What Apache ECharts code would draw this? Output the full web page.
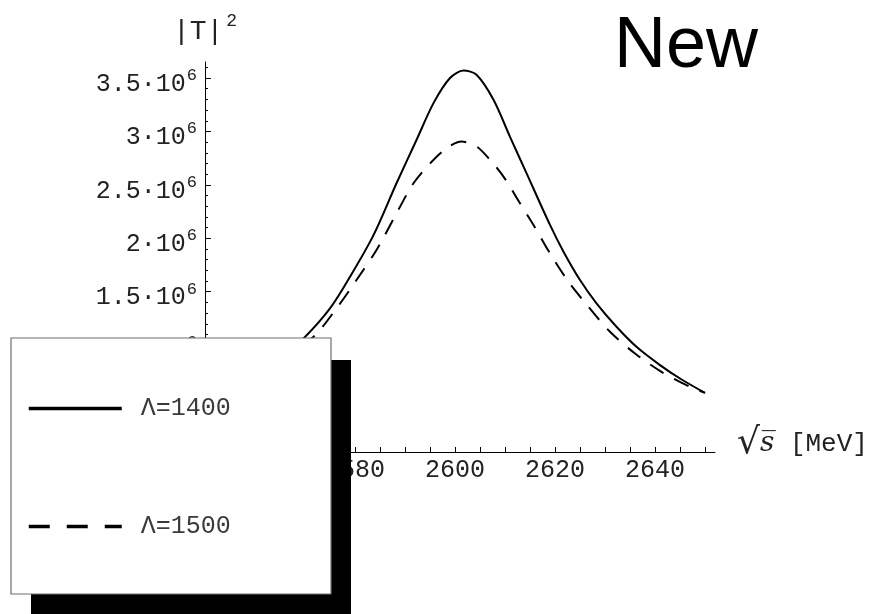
<!DOCTYPE html>
<html><head><meta charset="utf-8">
<script src="https://cdn.jsdelivr.net/npm/echarts@6/dist/echarts.min.js"></script>
<style>html,body{margin:0;padding:0;background:#fff}#c{width:879px;height:614px}</style>
</head><body><div id="c"></div>
<script>
// sqrt(s) [MeV] and |T|^2 values
const solidName = 'Λ=1400';
const solidX = [2550, 2555, 2560, 2565, 2569.7, 2575, 2579, 2583.7, 2588.3, 2592.3, 2595.7, 2599, 2601.7, 2604.3, 2607.7, 2611, 2614.3, 2619, 2621.7, 2625, 2628.3, 2632.3, 2636.3, 2641, 2645, 2650];
const solidY = [0.50e6, 0.60e6, 0.72e6, 0.88e6, 1.063e6, 1.344e6, 1.64e6, 2.03e6, 2.515e6, 2.92e6, 3.265e6, 3.50e6, 3.57e6, 3.53e6, 3.296e6, 2.95e6, 2.61e6, 2.125e6, 1.874e6, 1.609e6, 1.391e6, 1.172e6, 0.984e6, 0.813e6, 0.688e6, 0.553e6];

const dashedName = 'Λ=1500';
const dashedX = [2550, 2555, 2560, 2565, 2571.7, 2576.3, 2580.3, 2584.3, 2588.3, 2591.7, 2595, 2598.3, 2601.3, 2604.3, 2607, 2609.7, 2613, 2615.7, 2619, 2622.7, 2626.7, 2631, 2636, 2641.3, 2647, 2650];
const dashedY = [0.48e6, 0.58e6, 0.70e6, 0.85e6, 1.078e6, 1.344e6, 1.61e6, 1.89e6, 2.234e6, 2.515e6, 2.70e6, 2.843e6, 2.905e6, 2.86e6, 2.734e6, 2.577e6, 2.328e6, 2.125e6, 1.859e6, 1.593e6, 1.359e6, 1.125e6, 0.922e6, 0.75e6, 0.609e6, 0.553e6];

const xTickValues = [2550, 2555, 2560, 2565, 2570, 2575, 2580, 2585, 2590, 2595, 2600, 2605, 2610, 2615, 2620, 2625, 2630, 2635, 2640, 2645, 2650];
const xLabelValues = [2560, 2580, 2600, 2620, 2640];
const yTickValues = [0, 0.5e6, 1e6, 1.5e6, 2e6, 2.5e6, 3e6, 3.5e6];
const yLabelValues = [1e6, 1.5e6, 2e6, 2.5e6, 3e6, 3.5e6];

const zip = (xs, ys) => xs.map((x, i) => [x, ys[i]]);
const mono = 'Liberation Mono';
const txt = '#222';
const hidden = {color: 'rgba(0,0,0,0)', borderWidth: 0, opacity: 0};

const chart = echarts.init(document.getElementById('c'), null, {renderer: 'canvas'});
chart.setOption({
  backgroundColor: '#fff',
  animation: false,
  title: {
    text: 'New', left: 614, top: 11, padding: 0,
    textStyle: {fontFamily: 'Liberation Sans', fontSize: 72, fontWeight: 'normal', color: '#000'}
  },
  grid: {left: 205, top: 62, width: 510, height: 390},
  graphic: {
    z: 10,
    elements: [
      {type: 'rect', z: 10, zlevel: 0, shape: {x: 31, y: 360, width: 320, height: 270}, style: {fill: '#000'}, silent: true},
      {type: 'rect', z: 10, zlevel: 0, shape: {x: 11, y: 338, width: 320, height: 256}, style: {fill: '#fff', stroke: '#6e6e6e', lineWidth: 1.2}, silent: true}
    ]
  },
  xAxis: {
    type: 'value', min: 2550, max: 2652,
    name: '{r|√}{s|s\u0305}{u| [MeV]}', nameLocation: 'end', nameGap: 22,
    nameTextStyle: {
      padding: [0, 0, 16, 0],
      rich: {
        r: {fontFamily: 'DejaVu Sans', fontSize: 36, color: txt},
        s: {fontFamily: 'DejaVu Serif', fontStyle: 'italic', fontSize: 28, color: txt},
        u: {fontFamily: mono, fontSize: 26, color: txt}
      }
    },
    axisLine: {show: true, lineStyle: {color: '#000', width: 1}},
    axisTick: {show: true, inside: true, length: 5, customValues: xTickValues, lineStyle: {color: '#000'}},
    axisLabel: {customValues: xLabelValues, formatter: v => String(v), fontFamily: mono, fontSize: 25, color: txt, margin: 6},
    splitLine: {show: false}
  },
  yAxis: {
    type: 'value', min: 0, max: 3.65e6, interval: 0.5e6,
    name: '{a||T|}{s|2}', nameLocation: 'end', nameGap: 18,
    nameTextStyle: {
      rich: {
        a: {fontFamily: mono, fontSize: 28, color: txt, lineHeight: 32, padding: [8, 0, 0, 0]},
        s: {fontFamily: mono, fontSize: 18, color: txt, verticalAlign: 'top', lineHeight: 18, padding: [0, 0, 0, 3]}
      }
    },
    axisLine: {show: true, lineStyle: {color: '#000', width: 1}},
    axisTick: {show: true, inside: true, length: 6, customValues: yTickValues, lineStyle: {color: '#000'}},
    minorTick: {show: true, splitNumber: 5, length: 3, lineStyle: {color: '#000'}},
    axisLabel: {
      customValues: yLabelValues, margin: 8,
      formatter: v => '{a|' + (+(v / 1e6).toFixed(1)) + '·10}{s|6}',
      rich: {
        a: {fontFamily: mono, fontSize: 25, color: txt, lineHeight: 26, padding: [12, 0, 0, 0]},
        s: {fontFamily: mono, fontSize: 17, color: txt, verticalAlign: 'top', lineHeight: 18, padding: [2, 0, 0, 1]}
      }
    },
    splitLine: {show: false}
  },
  legend: {
    z: 20,
    orient: 'vertical', left: 11, top: 340,
    padding: [56, 100, 54, 16],
    itemWidth: 93, itemHeight: 28, itemGap: 93,
    backgroundColor: 'transparent', borderWidth: 0,
    selectedMode: false,
    textStyle: {fontFamily: mono, fontSize: 25, color: '#3a3a3a', padding: [0, 0, 0, 14]},
    itemStyle: hidden,
    data: [
      {name: solidName, itemStyle: hidden, lineStyle: {width: 3.5, type: 'solid', color: '#000'}},
      {name: dashedName, itemStyle: hidden, lineStyle: {width: 3.5, type: [21, 17], color: '#000'}}
    ]
  },
  series: [
    {name: solidName, type: 'line', z: 2, data: zip(solidX, solidY), smooth: 0.3, symbol: 'none',
     lineStyle: {color: '#000', width: 2}, itemStyle: {color: '#000'}},
    {name: dashedName, type: 'line', z: 2, data: zip(dashedX, dashedY), smooth: 0.3, symbol: 'none',
     lineStyle: {color: '#000', width: 2, type: [16, 12]}, itemStyle: {color: '#000'}}
  ]
});
</script></body></html>
